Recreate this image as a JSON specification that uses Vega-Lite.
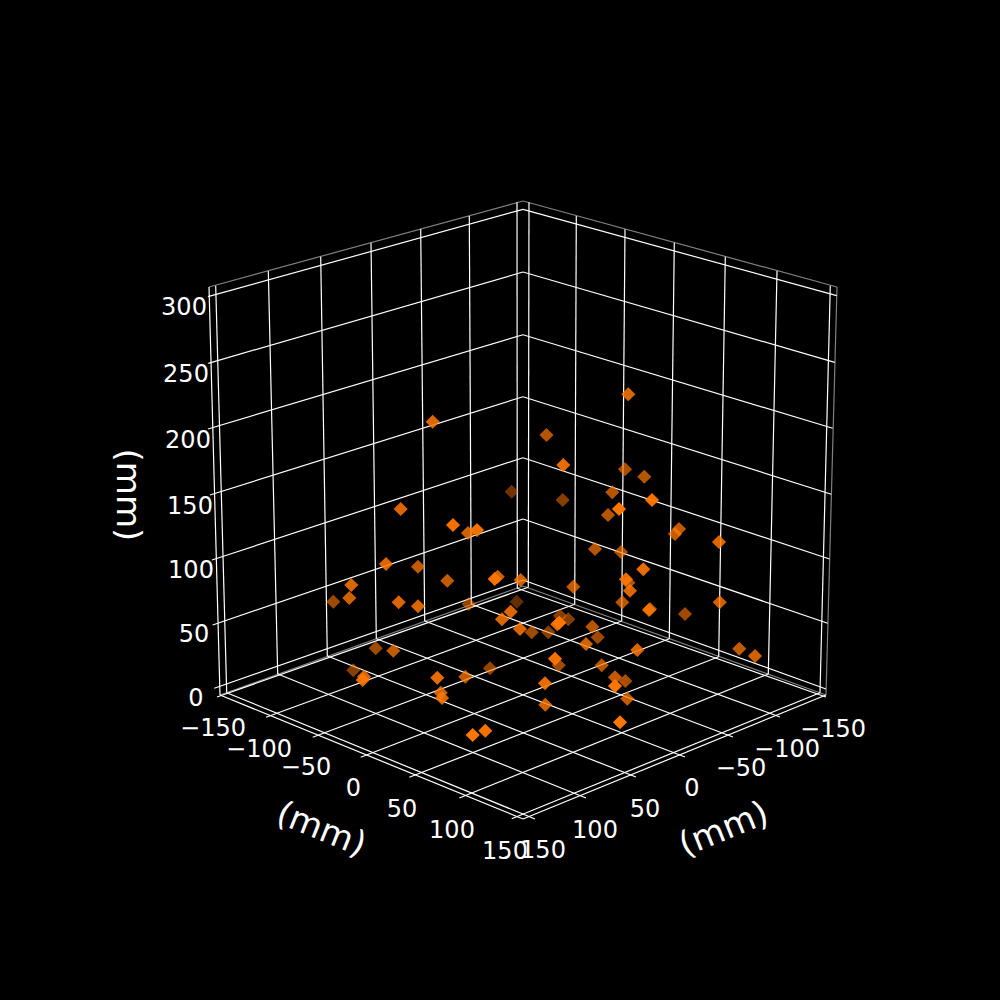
{
  "$schema": "https://vega.github.io/schema/vega-lite/v6.json",
  "width": 1000,
  "height": 1000,
  "padding": 0,
  "autosize": {"type": "fit", "contains": "padding"},
  "background": "black",
  "config": {"view": {"stroke": null}},
  "datasets": {
    "panes": [
      {"u": 209, "v": 287, "u2": 523, "v2": 201},
      {"u": 523, "v": 201, "u2": 837, "v2": 287},
      {"u": 837, "v": 287, "u2": 826, "v2": 695},
      {"u": 220, "v": 695, "u2": 523, "v2": 586},
      {"u": 523, "v": 586, "u2": 826, "v2": 695}
    ],
    "axes": [
      {"u": 209, "v": 287, "u2": 220, "v2": 695},
      {"u": 220, "v": 695, "u2": 523, "v2": 819},
      {"u": 523, "v": 819, "u2": 826, "v2": 695}
    ],
    "grid": [
      {"u": 208, "v": 296.7, "u2": 523, "v2": 209.3},
      {"u": 523, "v": 209.3, "u2": 836.7, "v2": 295.7},
      {"u": 208.3, "v": 363.3, "u2": 523, "v2": 272},
      {"u": 523, "v": 272, "u2": 834.7, "v2": 362.3},
      {"u": 208, "v": 429, "u2": 523, "v2": 334.7},
      {"u": 523, "v": 334.7, "u2": 832.7, "v2": 428.3},
      {"u": 210, "v": 495, "u2": 523, "v2": 396.7},
      {"u": 523, "v": 396.7, "u2": 831.3, "v2": 494.3},
      {"u": 212, "v": 560, "u2": 523, "v2": 457.7},
      {"u": 523, "v": 457.7, "u2": 829.5, "v2": 559},
      {"u": 212.7, "v": 625, "u2": 523, "v2": 519},
      {"u": 523, "v": 519, "u2": 827.7, "v2": 623.3},
      {"u": 214.3, "v": 688.3, "u2": 523, "v2": 580},
      {"u": 523, "v": 580, "u2": 826, "v2": 689},
      {"u": 215.7, "v": 285.7, "u2": 226.7, "v2": 692.7},
      {"u": 268.3, "v": 271, "u2": 277.7, "v2": 674},
      {"u": 320.7, "v": 256.7, "u2": 327.3, "v2": 656},
      {"u": 371, "v": 242.7, "u2": 376.3, "v2": 638.7},
      {"u": 420.7, "v": 229, "u2": 424.7, "v2": 621},
      {"u": 469.3, "v": 216, "u2": 471.3, "v2": 604.3},
      {"u": 517, "v": 202.3, "u2": 517.3, "v2": 588.3},
      {"u": 529, "v": 202.3, "u2": 528.3, "v2": 587.3},
      {"u": 576.3, "v": 216, "u2": 574.7, "v2": 604.3},
      {"u": 625, "v": 229.3, "u2": 621.7, "v2": 621},
      {"u": 674.3, "v": 242.7, "u2": 669.3, "v2": 638.7},
      {"u": 725.3, "v": 256.7, "u2": 718.7, "v2": 656.7},
      {"u": 777, "v": 271, "u2": 768.3, "v2": 674},
      {"u": 830.3, "v": 285.7, "u2": 820, "v2": 692.7},
      {"u": 226.7, "v": 692.7, "u2": 535, "v2": 819},
      {"u": 277.7, "v": 674, "u2": 586, "v2": 798},
      {"u": 327.3, "v": 656, "u2": 636, "v2": 777},
      {"u": 376.3, "v": 638.7, "u2": 685, "v2": 757},
      {"u": 424.7, "v": 621, "u2": 733, "v2": 737},
      {"u": 471.3, "v": 604.3, "u2": 780, "v2": 717},
      {"u": 517.3, "v": 588.3, "u2": 826, "v2": 697},
      {"u": 528.3, "v": 587.3, "u2": 217, "v2": 697},
      {"u": 574.7, "v": 604.3, "u2": 266, "v2": 717.3},
      {"u": 621.7, "v": 621, "u2": 312.7, "v2": 737.3},
      {"u": 669.3, "v": 638.7, "u2": 360.7, "v2": 757.3},
      {"u": 718.7, "v": 656.7, "u2": 409.3, "v2": 777.3},
      {"u": 768.3, "v": 674, "u2": 459.3, "v2": 798},
      {"u": 820, "v": 692.7, "u2": 511.7, "v2": 818.7}
    ],
    "ticks": [
      {"label": "300", "u": 184, "v": 308},
      {"label": "250", "u": 186, "v": 375},
      {"label": "200", "u": 188, "v": 441},
      {"label": "150", "u": 190, "v": 507},
      {"label": "100", "u": 191, "v": 571},
      {"label": "50", "u": 194, "v": 635},
      {"label": "0", "u": 196, "v": 699},
      {"label": "−150", "u": 213, "v": 729},
      {"label": "−100", "u": 259, "v": 750},
      {"label": "−50", "u": 306, "v": 768},
      {"label": "0", "u": 353.5, "v": 789},
      {"label": "50", "u": 402, "v": 810},
      {"label": "100", "u": 452, "v": 831},
      {"label": "150", "u": 505, "v": 852},
      {"label": "−150", "u": 833, "v": 730},
      {"label": "−100", "u": 787, "v": 750},
      {"label": "−50", "u": 741, "v": 769},
      {"label": "0", "u": 692, "v": 789},
      {"label": "50", "u": 645, "v": 810},
      {"label": "100", "u": 595, "v": 831},
      {"label": "150", "u": 543, "v": 851}
    ],
    "points": [
      {"u": 333.3, "v": 601.7, "depth": 0.6},
      {"u": 349.3, "v": 598, "depth": 0.8},
      {"u": 351.3, "v": 585, "depth": 0.85},
      {"u": 398.7, "v": 602.3, "depth": 0.85},
      {"u": 418, "v": 606.3, "depth": 0.85},
      {"u": 386, "v": 564, "depth": 0.85},
      {"u": 418, "v": 566.7, "depth": 0.75},
      {"u": 447.3, "v": 580.7, "depth": 0.75},
      {"u": 494.7, "v": 579, "depth": 0.95},
      {"u": 497.7, "v": 576.7, "depth": 0.8},
      {"u": 520.7, "v": 580, "depth": 0.8},
      {"u": 468.7, "v": 604, "depth": 0.55},
      {"u": 516.7, "v": 601.7, "depth": 0.35},
      {"u": 510.7, "v": 611.7, "depth": 0.85},
      {"u": 502, "v": 619.3, "depth": 0.85},
      {"u": 520, "v": 629, "depth": 0.85},
      {"u": 531.7, "v": 632.3, "depth": 0.6},
      {"u": 548.3, "v": 632.3, "depth": 0.5},
      {"u": 375.7, "v": 648.3, "depth": 0.6},
      {"u": 393.3, "v": 650.7, "depth": 0.75},
      {"u": 353.3, "v": 670.3, "depth": 0.5},
      {"u": 364, "v": 676.7, "depth": 0.85},
      {"u": 362.7, "v": 680, "depth": 0.9},
      {"u": 437.3, "v": 677.7, "depth": 0.9},
      {"u": 465.3, "v": 676.7, "depth": 0.75},
      {"u": 490, "v": 668.3, "depth": 0.55},
      {"u": 440.7, "v": 692.7, "depth": 0.8},
      {"u": 442, "v": 698, "depth": 0.85},
      {"u": 545, "v": 683.3, "depth": 0.9},
      {"u": 545.3, "v": 704.7, "depth": 0.8},
      {"u": 472.7, "v": 735, "depth": 1},
      {"u": 485.3, "v": 730.7, "depth": 0.95},
      {"u": 573.3, "v": 586.7, "depth": 0.75},
      {"u": 626, "v": 579.3, "depth": 0.9},
      {"u": 628.3, "v": 582.7, "depth": 0.7},
      {"u": 630, "v": 590.7, "depth": 0.85},
      {"u": 643.3, "v": 569.3, "depth": 0.9},
      {"u": 622.3, "v": 602.3, "depth": 0.7},
      {"u": 649, "v": 610, "depth": 0.85},
      {"u": 650, "v": 609, "depth": 0.7},
      {"u": 685, "v": 614, "depth": 0.6},
      {"u": 719.7, "v": 602.3, "depth": 0.8},
      {"u": 739.3, "v": 648.7, "depth": 0.75},
      {"u": 755, "v": 656, "depth": 0.8},
      {"u": 560, "v": 615.7, "depth": 0.5},
      {"u": 568.3, "v": 619.3, "depth": 0.5},
      {"u": 559.3, "v": 622.7, "depth": 1},
      {"u": 557.3, "v": 624.3, "depth": 0.9},
      {"u": 592.3, "v": 626.7, "depth": 0.7},
      {"u": 597.7, "v": 637.3, "depth": 0.6},
      {"u": 586, "v": 644, "depth": 0.8},
      {"u": 637.3, "v": 650, "depth": 0.85},
      {"u": 555, "v": 658.7, "depth": 0.95},
      {"u": 558.7, "v": 665.3, "depth": 0.6},
      {"u": 601.7, "v": 665.3, "depth": 0.7},
      {"u": 615, "v": 677.3, "depth": 0.75},
      {"u": 625.3, "v": 681, "depth": 0.65},
      {"u": 615, "v": 686, "depth": 1},
      {"u": 627.3, "v": 698.7, "depth": 0.75},
      {"u": 620, "v": 722.3, "depth": 1},
      {"u": 432.7, "v": 421.7, "depth": 0.85},
      {"u": 546.5, "v": 435, "depth": 0.7},
      {"u": 511.7, "v": 491.7, "depth": 0.4},
      {"u": 400.7, "v": 509, "depth": 0.85},
      {"u": 628.3, "v": 394.3, "depth": 0.85},
      {"u": 563.3, "v": 465, "depth": 0.9},
      {"u": 625, "v": 469.3, "depth": 0.65},
      {"u": 644.3, "v": 476.7, "depth": 0.7},
      {"u": 612.3, "v": 492.3, "depth": 0.7},
      {"u": 562.7, "v": 500, "depth": 0.5},
      {"u": 652, "v": 500, "depth": 0.95},
      {"u": 619, "v": 509, "depth": 1},
      {"u": 608, "v": 515, "depth": 0.7},
      {"u": 453, "v": 525, "depth": 0.95},
      {"u": 477, "v": 530, "depth": 0.95},
      {"u": 468, "v": 533, "depth": 0.8},
      {"u": 679, "v": 529, "depth": 0.75},
      {"u": 675, "v": 534, "depth": 0.75},
      {"u": 719, "v": 542, "depth": 0.85},
      {"u": 595, "v": 549, "depth": 0.7},
      {"u": 621, "v": 552, "depth": 0.65}
    ]
  },
  "encoding": {
    "x": {"field": "u", "type": "quantitative", "axis": null, "scale": {"domain": [0, 1000]}},
    "y": {"field": "v", "type": "quantitative", "axis": null, "scale": {"domain": [0, 1000], "reverse": true}}
  },
  "layer": [
    {
      "data": {"name": "panes"},
      "mark": {"type": "rule", "stroke": "#808080", "strokeWidth": 1.2},
      "encoding": {"x2": {"field": "u2"}, "y2": {"field": "v2"}}
    },
    {
      "data": {"name": "grid"},
      "mark": {"type": "rule", "stroke": "white", "strokeWidth": 1.2},
      "encoding": {"x2": {"field": "u2"}, "y2": {"field": "v2"}}
    },
    {
      "data": {"name": "axes"},
      "mark": {"type": "rule", "stroke": "white", "strokeWidth": 1.2},
      "encoding": {"x2": {"field": "u2"}, "y2": {"field": "v2"}}
    },
    {
      "data": {"name": "points"},
      "mark": {"type": "point", "shape": "diamond", "filled": true, "size": 200, "color": "#ff7700", "strokeWidth": 0},
      "encoding": {
        "opacity": {"field": "depth", "type": "quantitative", "legend": null, "scale": {"domain": [0, 1], "range": [0.05, 1]}},
        "order": {"field": "depth", "type": "quantitative"}
      }
    },
    {
      "data": {"name": "ticks"},
      "mark": {"type": "text", "font": "DejaVu Sans", "fontSize": 24, "color": "white", "align": "center", "baseline": "middle"},
      "encoding": {"text": {"field": "label"}}
    },
    {
      "data": {"values": [{"label": "(mm)", "u": 321, "v": 830}]},
      "mark": {"type": "text", "font": "DejaVu Sans", "fontSize": 34, "color": "white", "align": "center", "baseline": "middle", "angle": 22},
      "encoding": {"text": {"field": "label"}}
    },
    {
      "data": {"values": [{"label": "(mm)", "u": 724, "v": 830}]},
      "mark": {"type": "text", "font": "DejaVu Sans", "fontSize": 34, "color": "white", "align": "center", "baseline": "middle", "angle": -22},
      "encoding": {"text": {"field": "label"}}
    },
    {
      "data": {"values": [{"label": "(mm)", "u": 127, "v": 495}]},
      "mark": {"type": "text", "font": "DejaVu Sans", "fontSize": 34, "color": "white", "align": "center", "baseline": "middle", "angle": 90},
      "encoding": {"text": {"field": "label"}}
    }
  ]
}
